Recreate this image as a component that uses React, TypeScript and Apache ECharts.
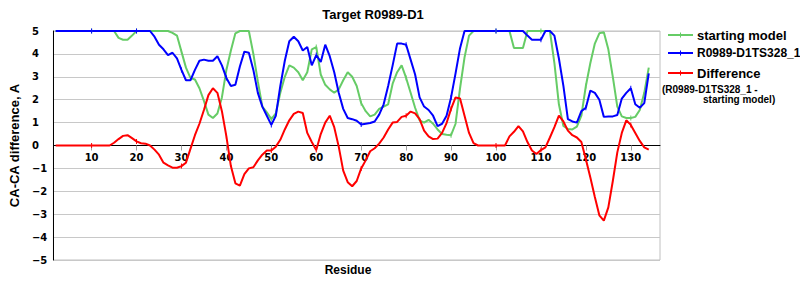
import React, { useEffect, useRef } from "react";
import * as echarts from "echarts";

// Residue categories shown on the x axis (first plotted residue is 2)
const categories: string[] = Array.from({ length: 135 }, (_, i) => String(i + 2));
const xTickLabels = ["10", "20", "30", "40", "50", "60", "70", "80", "90", "100", "110", "120", "130"];
const yTickLabels = [-5, -4, -3, -2, -1, 0, 1, 2, 3, 4, 5];

// starting model (residues 2..134)
const startingModel = [
  5, 5, 5, 5, 5, 5, 5, 5, 5, 5, 5, 5, 5, 5, // 2-15
  4.7, 4.62, 4.62, 4.8, // 16-19
  5, 5, 5, 5, 5, 5, 5, 5, // 20-27
  4.92, 4.8, 4.1, 3.4, 2.95, 2.88, 2.5, 1.95, 1.35, 1.2, 1.4, 2.1, 3.3, 4.15, 4.9, // 28-42
  5, 5, 5, // 43-45
  4.0, 2.8, 1.7, 1.45, 1.15, 1.4, 2.3, 3.0, 3.5, 3.4, 3.2, 2.85, 3.2, 4.2, 4.3, // 46-60
  3.1, 2.65, 2.45, 2.3, 2.45, 2.85, 3.2, 3.0, 2.6, 1.85, // 61-70
  1.5, 1.27, 1.35, 1.6, 1.7, 1.8, 2.7, 3.2, 3.5, 2.95, // 71-80
  2.3, 1.65, 1.1, 1.0, 1.12, 0.95, 0.7, 0.5, 0.47, 0.45, // 81-90
  0.95, 2.5, 3.85, 4.8, // 91-94
  5, 5, 5, 5, 5, 5, 5, 5, 5, // 95-103
  4.26, 4.26, 4.26, // 104-106
  5, 5, 5, 5, 5, 5, // 107-112
  3.6, 1.8, 0.85, 0.72, 0.7, 0.82, 1.3, 2.6, // 113-120
  3.6, 4.45, 4.9, 4.95, 4.2, 3.0, 1.7, 1.27, 1.2, 1.2, // 121-130
  1.25, 1.55, 2.3, 3.4, // 131-134
];

// R0989-D1TS328_1 (residues 2..134)
const modelTS328 = [
  5, 5, 5, 5, 5, 5, 5, 5, 5, 5, 5, 5, 5, 5, 5, 5, 5, 5, 5, 5, 5, 5, // 2-23
  4.75, 4.4, 4.2, 3.95, 4.05, 3.8, 3.3, 2.85, 2.85, 3.3, 3.7, 3.75, 3.7, 3.7, 3.9, 3.5, 2.95, // 24-40
  2.6, 2.65, 3.45, 4.1, 4.05, 3.3, 2.3, 1.7, 1.3, 0.9, // 41-50
  1.3, 2.6, 3.7, 4.55, 4.75, 4.55, 4.15, 4.3, 3.5, 3.95, // 51-60
  3.65, 4.4, 3.9, 3.2, 2.3, 1.6, 1.2, 1.15, 1.08, 0.92, // 61-70
  0.95, 0.98, 1.05, 1.35, 1.8, 2.6, 3.5, 4.45, 4.45, 4.4, // 71-80
  3.75, 3.1, 2.1, 1.7, 1.55, 1.3, 0.85, 0.95, 1.3, 2.1, // 81-90
  3.15, 4.25, // 91-92
  5, 5, 5, 5, 5, 5, 5, 5, 5, 5, 5, 5, 5, 5, // 93-106
  4.8, 4.62, 4.62, 4.62, 5, 5, 4.8, 3.8, 2.6, 1.15, // 107-116
  1.05, 1.0, 1.5, 1.65, 2.4, 2.3, 2.0, 1.25, 1.27, 1.27, // 117-126
  1.33, 2.05, 2.3, 2.5, 1.8, 1.65, 1.85, 3.15, // 127-134
];

// Difference (R0989-D1TS328_1 - starting model) (residues 2..134)
const difference = [
  0, 0, 0, 0, 0, 0, 0, 0, 0, 0, 0, 0, 0, // 2-14
  0.12, 0.28, 0.42, 0.45, 0.32, 0.18, 0.1, 0.08, 0.0, // 15-23
  -0.18, -0.4, -0.75, -0.87, -0.97, -0.97, -0.9, -0.75, -0.15, 0.45, // 24-33
  0.95, 1.55, 2.2, 2.5, 2.3, 1.5, 0.4, // 34-40
  -0.9, -1.65, -1.75, -1.25, -1.0, -0.95, -0.65, -0.4, -0.22, -0.22, // 41-50
  -0.05, 0.25, 0.7, 1.1, 1.38, 1.48, 1.42, 0.55, 0.15, -0.2, // 51-60
  0.5, 1.0, 1.3, 0.8, -0.05, -1.1, -1.6, -1.78, -1.55, -1.0, // 61-70
  -0.65, -0.25, -0.12, 0.08, 0.35, 0.7, 1.0, 1.03, 1.25, 1.3, // 71-80
  1.48, 1.4, 1.15, 0.65, 0.4, 0.28, 0.3, 0.55, 0.98, 1.6, // 81-90
  2.1, 2.05, 1.3, 0.55, 0.1, // 91-95
  0, 0, 0, 0, 0, 0, 0, // 96-102
  0.4, 0.6, 0.85, 0.62, 0.15, -0.22, -0.37, -0.2, // 103-110
  -0.08, 0.35, 0.8, 1.3, 1.05, 0.65, 0.45, 0.35, 0.15, -0.6, // 111-120
  -1.4, -2.25, -3.05, -3.28, -2.7, -1.55, -0.3, 0.55, 1.1, 0.9, // 121-130
  0.55, 0.2, -0.08, -0.18, // 131-134
];

const GREEN = "#66CC66";
const BLUE = "#0000FF";
const RED = "#FF0000";
const FONT = "'Liberation Sans', Arial, sans-serif";
const TICKFONT = "'DejaVu Sans', Verdana, sans-serif";

const GRID_TOP = 31;
const GRID_BOTTOM = 40;
const CHART_H = 300;
// vertical distance from the grid bottom to the zero line (zero is mid-range of -5..5)
const ZERO_OFFSET = -((CHART_H - GRID_TOP - GRID_BOTTOM) / 2);

const isLabelled = (_i: number, v: string) => xTickLabels.includes(String(v));

function lineSeries(name: string, data: number[], color: string) {
  return {
    name,
    type: "line",
    data,
    showSymbol: true,
    symbol: "rect",
    symbolSize: [1, 5],
    itemStyle: { color },
    lineStyle: { color, width: 2 },
    emphasis: { disabled: true },
  };
}

function legendItem(y: number, color: string) {
  return [
    { type: "line", shape: { x1: 668, y1: y, x2: 693, y2: y }, style: { stroke: color, lineWidth: 2 } },
    { type: "rect", shape: { x: 680, y: y - 2.5, width: 1, height: 5 }, style: { fill: color } },
  ];
}

export default function App() {
  const ref = useRef<HTMLDivElement>(null);
  useEffect(() => {
    if (!ref.current) return;
    const chart = echarts.init(ref.current, undefined, { renderer: "svg" });
    chart.setOption({
      animation: false,
      backgroundColor: "#ffffff",
      grid: {
        left: 50,
        right: 140,
        top: GRID_TOP,
        bottom: GRID_BOTTOM,
        show: true,
        borderColor: "#C0C0C0",
        borderWidth: 1,
      },
      xAxis: {
        type: "category",
        data: categories,
        boundaryGap: true,
        position: "bottom",
        offset: ZERO_OFFSET,
        axisLine: { onZero: false, lineStyle: { color: "#000000", width: 1 } },
        axisTick: {
          show: true,
          interval: isLabelled,
          alignWithLabel: true,
          length: 5,
          lineStyle: { color: "#A0A0A0" },
        },
        axisLabel: {
          interval: isLabelled,
          margin: 7,
          fontFamily: TICKFONT,
          fontWeight: "bold",
          fontSize: 10,
          color: "#000000",
        },
        splitLine: { show: false },
      },
      yAxis: {
        type: "value",
        min: yTickLabels[0],
        max: yTickLabels[yTickLabels.length - 1],
        interval: 1,
        name: "CA-CA difference, A",
        nameLocation: "middle",
        nameGap: 27,
        nameTextStyle: { fontFamily: FONT, fontWeight: "bold", fontSize: 13, color: "#000000" },
        axisLine: { show: true, lineStyle: { color: "#000000", width: 1 } },
        axisTick: { show: false },
        axisLabel: {
          align: "left",
          margin: 21.5,
          fontFamily: TICKFONT,
          fontWeight: "bold",
          fontSize: 10,
          color: "#000000",
          formatter: (v: number) => (v < 0 ? "\u2212" + Math.abs(v) : String(v)),
        },
        splitLine: { show: true, lineStyle: { color: "#C8C8C8", width: 1 } },
      },
      series: [
        lineSeries("starting model", startingModel, GREEN),
        lineSeries("R0989-D1TS328_1", modelTS328, BLUE),
        lineSeries("Difference", difference, RED),
      ],
      graphic: [
        {
          type: "text",
          x: 373,
          y: 14,
          style: {
            text: "Target R0989-D1",
            align: "center",
            verticalAlign: "middle",
            font: `bold 13px ${FONT}`,
            fill: "#000000",
          },
        },
        {
          type: "text",
          x: 348,
          y: 270,
          style: {
            text: "Residue",
            align: "center",
            verticalAlign: "middle",
            font: `bold 12px ${FONT}`,
            fill: "#000000",
          },
        },
        ...legendItem(35, GREEN),
        ...legendItem(53, BLUE),
        ...legendItem(73, RED),
        {
          type: "text",
          x: 697,
          y: 35,
          style: { text: "starting model", verticalAlign: "middle", font: `bold 13px ${FONT}`, fill: "#000000" },
        },
        {
          type: "text",
          x: 697,
          y: 53,
          style: { text: "R0989-D1TS328_1", verticalAlign: "middle", font: `bold 12px ${FONT}`, fill: "#000000" },
        },
        {
          type: "text",
          x: 697,
          y: 73,
          style: { text: "Difference", verticalAlign: "middle", font: `bold 13px ${FONT}`, fill: "#000000" },
        },
        {
          type: "text",
          x: 662,
          y: 89,
          style: { text: "(R0989-D1TS328_1 -", verticalAlign: "middle", font: `bold 10px ${FONT}`, fill: "#000000" },
        },
        {
          type: "text",
          x: 703,
          y: 99,
          style: { text: "starting model)", verticalAlign: "middle", font: `bold 10px ${FONT}`, fill: "#000000" },
        },
      ],
    });
    return () => chart.dispose();
  }, []);
  return (
    <div
      ref={ref}
      style={{ position: "fixed", left: 0, top: 0, width: 800, height: 300, background: "#fff" }}
    />
  );
}
